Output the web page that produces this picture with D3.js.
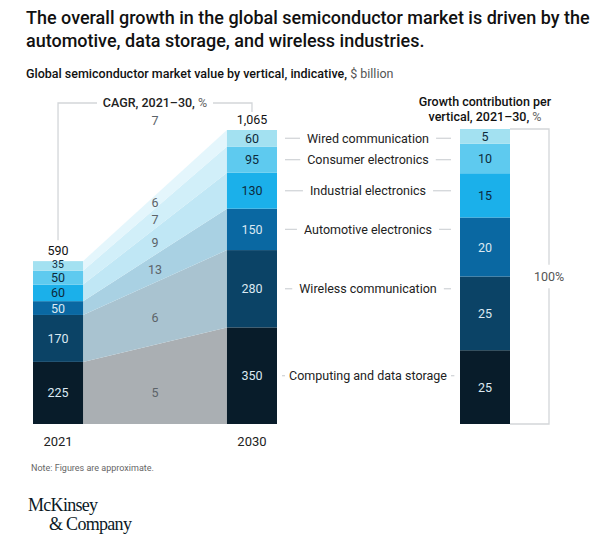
<!DOCTYPE html>
<html>
<head>
<meta charset="utf-8">
<script src="https://cdn.jsdelivr.net/npm/d3@7"></script>
<style>
  html, body { margin: 0; padding: 0; background: #fff; }
  svg { display: block; font-family: Roboto, "Liberation Sans", Arial, sans-serif; }
</style>
</head>
<body>
<svg id="chart" width="602" height="549"></svg>
<script>
// ---- data ----
const categories = ["Computing and data storage", "Wireless communication", "Automotive electronics",
                    "Industrial electronics", "Consumer electronics", "Wired communication"];
const years = ["2021", "2030"];
const values2021 = [225, 170, 50, 60, 50, 35];
const values2030 = [350, 280, 150, 130, 95, 60];
const totals = ["590", "1,065"];
const cagr = [5, 6, 13, 9, 7, 6];
const cagrTotal = 7;
const growthShare = [25, 25, 20, 15, 10, 5];

// ---- styles ----
const barColors = ["#081c2a", "#0b4366", "#0a68a2", "#1bb0ea", "#5ecaef", "#a3e1f1"];
const bandColors = ["#aaafb3", "#a9c3d0", "#a9d1e3", "#c0e7f5", "#d1eff9", "#e4f6fc"];
const darkText = "#0d2a3c";
const lightText = "#dbe9f2";
const textOnDark = [true, true, true, false, false, false];

const svg = d3.select("#chart");

// Title (fit to reference width)
const titleLines = ["The overall growth in the global semiconductor market is driven by the",
                    "automotive, data storage, and wireless industries."];
const t1 = svg.append("text").attr("x", 26).attr("y", 24)
  .attr("font-size", 18).attr("font-weight", 500).attr("fill", "#111").text(titleLines[0]);
const w1 = t1.node().getComputedTextLength();
const titleSize = Math.min(19, 18 * 564 / w1);
t1.attr("font-size", titleSize);
svg.append("text").attr("x", 26).attr("y", 47)
  .attr("font-size", titleSize).attr("font-weight", 500).attr("fill", "#111").text(titleLines[1]);

// Subtitle
const sub = svg.append("text").attr("x", 26).attr("y", 78).attr("font-size", 12.5).attr("fill", "#111");
sub.append("tspan").attr("font-weight", 500).text("Global semiconductor market value by vertical, indicative, ");
sub.append("tspan").attr("fill", "#555").text("$ billion");

// Scales
const x = d3.scaleBand().domain(years).range([33, 277]).paddingInner(0.742).paddingOuter(0);
const y = d3.scaleLinear().domain([0, 1065]).range([424, 130]);
const yShare = d3.scaleLinear().domain([0, 100]).range([424, 129]);
const bw = x.bandwidth();

// Stacks
const stack = (vals) => {
  let acc = 0;
  return vals.map(v => { const s = [acc, acc + v]; acc += v; return s; });
};
const s21 = stack(values2021), s30 = stack(values2030), sShare = stack(growthShare);

const x0 = x("2021") + bw, x1 = x("2030");

// Bands between bars
const bandG = svg.append("g");
categories.forEach((c, i) => {
  const pts = [[x0, y(s21[i][0])], [x1, y(s30[i][0])], [x1, y(s30[i][1])], [x0, y(s21[i][1])]];
  bandG.append("path").attr("d", d3.line()(pts) + "Z").attr("fill", bandColors[i]);
  const xm = (x0 + x1) / 2;
  const ym = ((y(s21[i][0]) + y(s30[i][0])) / 2 + (y(s21[i][1]) + y(s30[i][1])) / 2) / 2;
  const adj = i === 0 ? 8 : (i === 1 ? 4 : 1);
  bandG.append("text").attr("x", xm).attr("y", ym + adj).attr("dy", "0.35em")
    .attr("text-anchor", "middle").attr("font-size", 12.5).attr("fill", "#5c6369").text(cagr[i]);
});

// Bars
[[values2021, s21, "2021"], [values2030, s30, "2030"]].forEach(([vals, st, yr]) => {
  const g = svg.append("g");
  vals.forEach((v, i) => {
    const h = y(st[i][0]) - y(st[i][1]);
    g.append("rect").attr("x", x(yr)).attr("y", y(st[i][1])).attr("width", bw)
      .attr("height", h).attr("fill", barColors[i]);
    const fs = Math.min(12.5, Math.max(10.5, h - 1));
    const nudge = (yr === "2021" && i === vals.length - 1) ? -1.5 : 0;
    g.append("text").attr("x", x(yr) + bw / 2).attr("y", (y(st[i][0]) + y(st[i][1])) / 2 + nudge)
      .attr("dy", "0.36em").attr("text-anchor", "middle").attr("font-size", fs)
      .attr("fill", textOnDark[i] ? lightText : darkText).text(v);
  });
  const total = d3.sum(vals);
  g.append("text").attr("x", x(yr) + bw / 2).attr("y", y(total) - 6)
    .attr("text-anchor", "middle").attr("font-size", 12.5).attr("fill", "#111")
    .text(totals[years.indexOf(yr)]);
  g.append("text").attr("x", x(yr) + bw / 2).attr("y", 446)
    .attr("text-anchor", "middle").attr("font-size", 13).attr("fill", "#222").text(yr);
});

// CAGR bracket
const bracketY = 103;
const bx0 = x("2021") + bw / 2, bx1 = x("2030") + bw / 2;
const cagrLabel = svg.append("text").attr("x", (bx0 + bx1) / 2).attr("y", bracketY + 4)
  .attr("text-anchor", "middle").attr("font-size", 12.5).attr("fill", "#222");
cagrLabel.append("tspan").attr("font-weight", 500).text("CAGR, 2021–30, ");
cagrLabel.append("tspan").attr("fill", "#666").text("%");
const lineCol = "#d3d6d9";
const lw = 58;
svg.append("path")
  .attr("d", `M${bx0},${y(d3.sum(values2021)) - 21}V${bracketY}H${(bx0 + bx1) / 2 - lw}`)
  .attr("fill", "none").attr("stroke", lineCol).attr("stroke-width", 1.3);
svg.append("path")
  .attr("d", `M${(bx0 + bx1) / 2 + lw},${bracketY}H${bx1}V${y(d3.sum(values2030)) - 18}`)
  .attr("fill", "none").attr("stroke", lineCol).attr("stroke-width", 1.3);
svg.append("text").attr("x", (x0 + x1) / 2).attr("y", 125).attr("text-anchor", "middle")
  .attr("font-size", 12.5).attr("fill", "#5c6369").text(cagrTotal);

// Right share bar
const rx = 460, rw = 50;
const gR = svg.append("g");
growthShare.forEach((v, i) => {
  gR.append("rect").attr("x", rx).attr("y", yShare(sShare[i][1])).attr("width", rw)
    .attr("height", yShare(sShare[i][0]) - yShare(sShare[i][1])).attr("fill", barColors[i]);
  gR.append("text").attr("x", rx + rw / 2).attr("y", (yShare(sShare[i][0]) + yShare(sShare[i][1])) / 2)
    .attr("dy", "0.36em").attr("text-anchor", "middle").attr("font-size", 12.5)
    .attr("fill", textOnDark[i] ? lightText : darkText).text(v);
});
// Header
const hd = svg.append("text").attr("x", 485).attr("font-size", 12.5).attr("font-weight", 500).attr("fill", "#111")
  .attr("text-anchor", "middle");
hd.append("tspan").attr("x", 485).attr("y", 106).text("Growth contribution per");
const hd2 = hd.append("tspan").attr("x", 485).attr("y", 121);
hd2.append("tspan").text("vertical, 2021–30, ");
hd2.append("tspan").attr("font-weight", 400).attr("fill", "#666").text("%");

// 100% bracket
const brX = 549;
svg.append("path").attr("d", `M${rx + rw},${yShare(100)}H${brX}V${yShare(54)}`)
  .attr("fill", "none").attr("stroke", lineCol).attr("stroke-width", 1.3);
svg.append("path").attr("d", `M${brX},${yShare(46)}V${yShare(0)}H${rx + rw}`)
  .attr("fill", "none").attr("stroke", lineCol).attr("stroke-width", 1.3);
svg.append("text").attr("x", brX).attr("y", yShare(50)).attr("dy", "0.35em").attr("text-anchor", "middle")
  .attr("font-size", 12.5).attr("fill", "#555").text("100%");

// Category labels with connector lines
const labelX = 368;
categories.forEach((c, i) => {
  const yy = (y(s30[i][0]) + y(s30[i][1])) / 2;
  const t = svg.append("text").attr("x", labelX).attr("y", yy).attr("dy", "0.35em")
    .attr("text-anchor", "middle").attr("font-size", 12.5).attr("fill", "#222").text(c);
  const bb = t.node().getBBox();
  svg.append("line").attr("x1", x1 + bw + 8).attr("x2", bb.x - 7).attr("y1", yy).attr("y2", yy)
    .attr("stroke", lineCol).attr("stroke-width", 1.3);
  svg.append("line").attr("x1", bb.x + bb.width + 7).attr("x2", rx - 9).attr("y1", yy).attr("y2", yy)
    .attr("stroke", lineCol).attr("stroke-width", 1.3);
});

// Note
svg.append("text").attr("x", 31).attr("y", 471).attr("font-size", 9).attr("fill", "#666")
  .text("Note: Figures are approximate.");

// Logo
svg.append("text").attr("x", 28).attr("y", 511).attr("font-family", "'Liberation Serif', 'DejaVu Serif', serif")
  .attr("font-size", 18).attr("letter-spacing", -0.7).attr("fill", "#0b1a26").text("McKinsey");
svg.append("text").attr("x", 49).attr("y", 530).attr("font-family", "'Liberation Serif', 'DejaVu Serif', serif")
  .attr("font-size", 18).attr("letter-spacing", -0.7).attr("fill", "#0b1a26").text("& Company");
</script>
</body>
</html>
